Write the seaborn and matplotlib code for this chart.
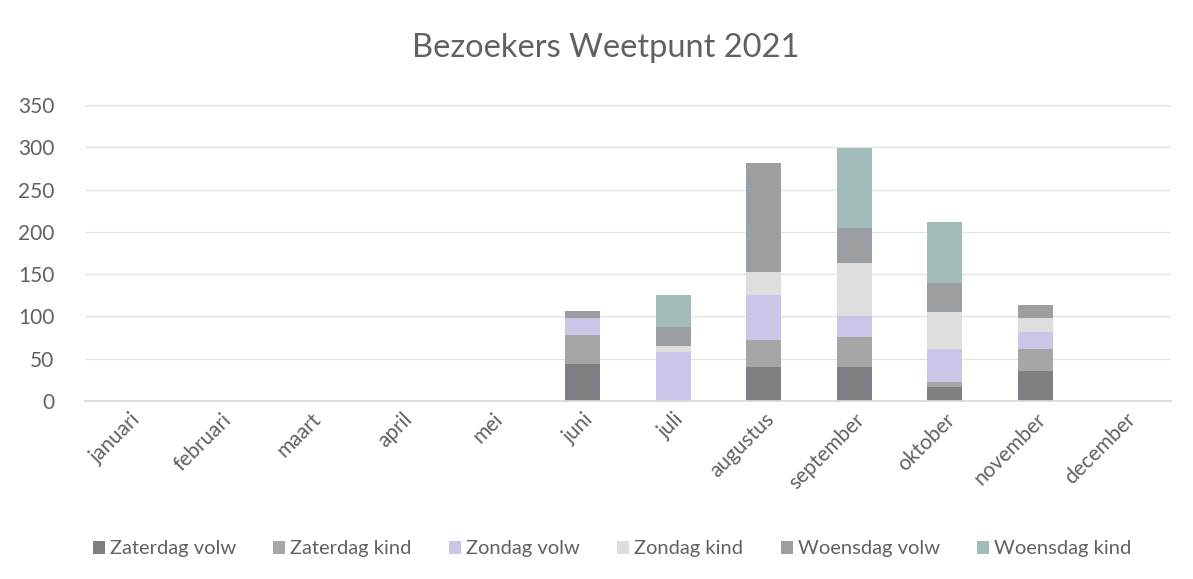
import matplotlib
matplotlib.use("Agg")
import matplotlib.pyplot as plt
import seaborn as sns
import pandas as pd
from matplotlib.patches import Patch

months = ["januari", "februari", "maart", "april", "mei", "juni",
          "juli", "augustus", "september", "oktober", "november", "december"]

series = ["Zaterdag volw", "Zaterdag kind", "Zondag volw",
          "Zondag kind", "Woensdag volw", "Woensdag kind"]

zaterdag_volw = [0, 0, 0, 0, 0, 44, 0, 40, 40, 17, 35, 0]
zaterdag_kind = [0, 0, 0, 0, 0, 34, 0, 32, 36, 6, 27, 0]
zondag_volw = [0, 0, 0, 0, 0, 20, 58, 53, 24, 39, 20, 0]
zondag_kind = [0, 0, 0, 0, 0, 0, 7, 28, 63, 43, 16, 0]
woensdag_volw = [0, 0, 0, 0, 0, 9, 23, 128, 41, 34, 15, 0]
woensdag_kind = [0, 0, 0, 0, 0, 0, 37, 0, 95, 73, 0, 0]

colors = ["#7f7f83", "#a6a6a6", "#c9c6e8", "#dedede", "#9c9fa2", "#a2bcba"]

values = [zaterdag_volw, zaterdag_kind, zondag_volw,
          zondag_kind, woensdag_volw, woensdag_kind]

rows = []
for name, vals in zip(series, values):
    for m, v in zip(months, vals):
        rows.append({"maand": m, "serie": name, "aantal": v})
df = pd.DataFrame(rows)
df["maand"] = pd.Categorical(df["maand"], categories=months, ordered=True)

sns.set_theme(style="white")
plt.rcParams["font.family"] = ["Lato", "DejaVu Sans"]
text_grey = "#616161"

fig = plt.figure(figsize=(11.93, 5.79), dpi=100)
ax = fig.add_axes([0.0713, 0.3074, 0.9103, 0.5113])

# seaborn stacks the first hue level on top, so reverse the order
sns.histplot(data=df, x="maand", weights="aantal", hue="serie",
             hue_order=series[::-1], palette=dict(zip(series, colors)),
             multiple="stack", discrete=True, shrink=0.39,
             linewidth=0, alpha=1, legend=False, ax=ax)

ax.set_ylim(0, 350)
ax.set_xlim(-0.5, 11.5)
ax.set_yticks(range(0, 351, 50))
ax.yaxis.grid(True, color="#e3e3e3", linewidth=1)
ax.set_axisbelow(True)
for s in ["top", "right", "left"]:
    ax.spines[s].set_visible(False)
ax.spines["bottom"].set_color("#d9d9d9")
ax.set_xlabel("")
ax.set_ylabel("")
ax.set_xticks(range(len(months)))
ax.set_xticklabels(months, rotation=45, ha="right", rotation_mode="anchor")
ax.tick_params(axis="both", colors=text_grey, labelsize=15, length=0)
ax.tick_params(axis="y", pad=22)
ax.tick_params(axis="x", pad=6)

fig.suptitle("Bezoekers Weetpunt 2021", x=0.508, y=0.943,
             fontsize=23.5, color=text_grey)

handles = [Patch(facecolor=c, edgecolor="none") for c in colors]
fig.legend(handles, series, loc="center", bbox_to_anchor=(0.513, 0.052),
           ncol=6, frameon=False, fontsize=14.5, labelcolor=text_grey,
           handlelength=0.6, handleheight=0.6, handletextpad=0.25,
           columnspacing=1.85)

fig.savefig("out.png", dpi=100)
